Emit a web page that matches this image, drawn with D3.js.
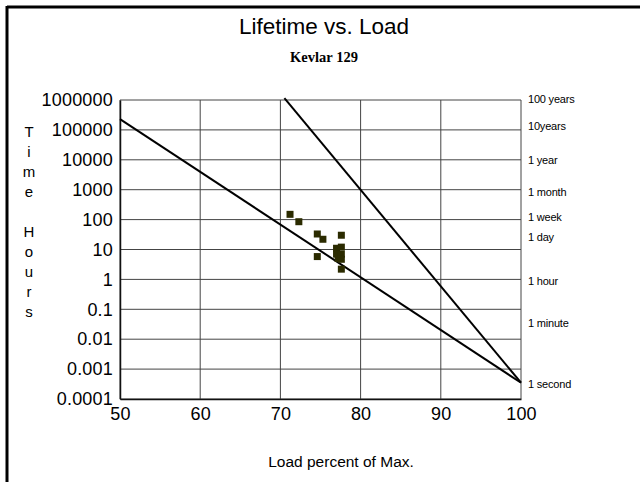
<!DOCTYPE html>
<html>
<head>
<meta charset="utf-8">
<script src="https://cdn.jsdelivr.net/npm/d3@7"></script>
<style>
  body { margin: 0; background: #fff; }
  svg { display: block; font-family: "Liberation Sans", Arial, sans-serif; }
</style>
</head>
<body>
<svg id="chart" width="640" height="482"></svg>
<script>
// data
const xTicks = [50, 60, 70, 80, 90, 100]
const yTicks = [1000000, 100000, 10000, 1000, 100, 10, 1, 0.1, 0.01, 0.001, 0.0001]
const yTickLabels = ["1000000", "100000", "10000", "1000", "100", "10", "1", "0.1", "0.01", "0.001", "0.0001"]

// right side duration labels (hours where they sit)
const rightLabels = ["100 years", "10years", "1 year", "1 month", "1 week", "1 day", "1 hour", "1 minute", "1 second"]
const rightLabelHours = [1.1e6, 1.35e5, 1.0e4, 830, 123, 26, 0.86, 0.035, 0.00032]

// test points: load %, hours
const loadPct = [71.2, 72.3, 74.6, 75.3, 77.6, 74.6, 77.0, 77.6, 77.0, 77.6, 77.2, 77.6, 77.6]
const hours   = [150, 85, 33, 22, 30, 5.8, 11, 12, 7, 7, 5, 4.7, 2.2]

// two trend lines [load, hours]
const lowerLine = [[50, 2.3e5], [100, 0.00035]]
const upperLine = [[70.5, 1.15e6], [100, 0.00035]]

const yTitle = ["T", "i", "m", "e", "", "H", "o", "u", "r", "s"]

const svg = d3.select("#chart")

// outer frame (top and left edge only visible)
svg.append("line").attr("x1", 7).attr("x2", 640).attr("y1", 7).attr("y2", 7)
    .attr("stroke", "#000").attr("stroke-width", 3)
svg.append("line").attr("x1", 7).attr("x2", 7).attr("y1", 6).attr("y2", 482)
    .attr("stroke", "#000").attr("stroke-width", 3)

const margin = {left: 120, top: 100},
    width = 401,
    height = 299

const g = svg.append("g").attr("transform", "translate(" + margin.left + "," + margin.top + ")")

const x = d3.scaleLinear().domain([50, 100]).range([0, width])
const y = d3.scaleLog().domain([0.0001, 1000000]).range([height, 0])

// grid
g.selectAll(".vgrid").data(xTicks).enter().append("line")
    .attr("x1", d => x(d)).attr("x2", d => x(d))
    .attr("y1", 0).attr("y2", height)
    .attr("stroke", "#444").attr("stroke-width", 1)
g.selectAll(".hgrid").data(yTicks).enter().append("line")
    .attr("x1", 0).attr("x2", width)
    .attr("y1", d => y(d)).attr("y2", d => y(d))
    .attr("stroke", "#444").attr("stroke-width", 1)

// axes
const xAxis = g.append("g").attr("transform", "translate(0," + height + ")")
    .call(d3.axisBottom(x).tickValues(xTicks).tickSize(0).tickPadding(8).tickFormat(d3.format("d")))
const yAxis = g.append("g")
    .call(d3.axisLeft(y).tickValues(yTicks).tickSize(0).tickPadding(7)
        .tickFormat((d, i) => yTickLabels[i]))
;[xAxis, yAxis].forEach(a => {
    a.select(".domain").attr("stroke", "#111").attr("stroke-width", 1.5)
    a.selectAll("text").attr("font-family", "Liberation Sans, Arial, sans-serif")
        .attr("font-size", 18).attr("fill", "#000").attr("letter-spacing", 0.2)
})
xAxis.selectAll("text").attr("dy", "0.72em")

// right duration labels
g.selectAll(".rlab").data(rightLabels).enter().append("text")
    .attr("x", width + 7)
    .attr("y", (d, i) => y(rightLabelHours[i]))
    .attr("dy", "0.35em")
    .attr("font-size", 11)
    .attr("letter-spacing", -0.2)
    .text(d => d)

// trend lines
const line = d3.line().x(d => x(d[0])).y(d => y(d[1]))
;[lowerLine, upperLine].forEach(l => {
    g.append("path").attr("d", line(l))
        .attr("fill", "none").attr("stroke", "#000").attr("stroke-width", 2)
})

// points
g.selectAll(".pt").data(loadPct).enter().append("rect")
    .attr("x", d => x(d) - 3.5)
    .attr("y", (d, i) => y(hours[i]) - 3.5)
    .attr("width", 7).attr("height", 7)
    .attr("fill", "#2b2b00")

// titles
svg.append("text").attr("x", 324).attr("y", 34).attr("text-anchor", "middle")
    .attr("font-size", 22.5).text("Lifetime vs. Load")
svg.append("text").attr("x", 324).attr("y", 62).attr("text-anchor", "middle")
    .attr("font-family", "Liberation Serif, Times New Roman, serif")
    .attr("font-weight", "bold").attr("font-size", 14.5)
    .text("Kevlar 129")

svg.append("text").attr("x", 341).attr("y", 467).attr("text-anchor", "middle")
    .attr("font-size", 15.5)
    .text("Load percent of Max.")

svg.append("g").selectAll("text").data(yTitle).enter().append("text")
    .attr("x", 29)
    .attr("y", (d, i) => 137 + i * 20)
    .attr("text-anchor", "middle")
    .attr("font-size", 15)
    .text(d => d)
</script>
</body>
</html>
